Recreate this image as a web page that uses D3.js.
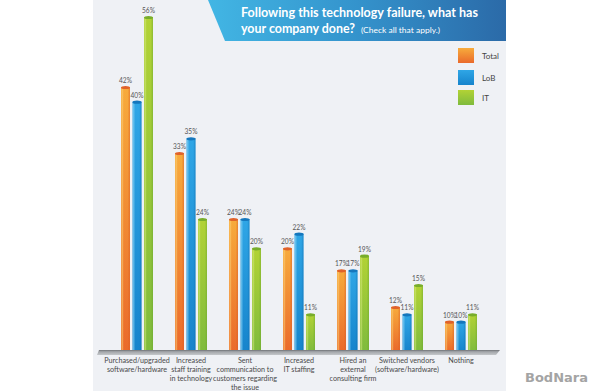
<!DOCTYPE html>
<html lang="en">
<head>
  <meta charset="UTF-8">
  <title>Technology failure response</title>
  <script src="https://d3js.org/d3.v7.min.js"></script>
  <style>
    html, body { margin: 0; padding: 0; background: #fff; }
    svg { display: block; font-family: Lato, "Liberation Sans", sans-serif; }
    .val { font-size: 6.6px; fill: #555; text-anchor: middle; }
    .cat { font-size: 7.2px; fill: #4a4a4a; text-anchor: middle; }
    .leg { font-size: 8px; fill: #444; }
  </style>
</head>
<body>
  <svg width="600" height="391"></svg>

  <script>
    // data
    const categories = [
      "Purchased/upgraded\nsoftware/hardware",
      "Increased\nstaff training\nin technology",
      "Sent\ncommunication to\ncustomers regarding\nthe issue",
      "Increased\nIT staffing",
      "Hired an\nexternal\nconsulting firm",
      "Switched vendors\n(software/hardware)",
      "Nothing"
    ];
    const seriesNames = ["Total", "LoB", "IT"];
    const totalValues = [42, 33, 24, 20, 17, 12, 10];
    const lobValues   = [40, 35, 24, 22, 17, 11, 10];
    const itValues    = [56, 24, 20, 11, 19, 15, 11];

    const svg = d3.select("svg");
    const defs = svg.append("defs");

    // panel background
    svg.append("rect")
      .attr("x", 93).attr("y", 0)
      .attr("width", 413).attr("height", 391)
      .attr("fill", "#eff1f5");

    // title banner
    const bannerGrad = defs.append("linearGradient").attr("id", "banner")
      .attr("x1", 0).attr("x2", 1).attr("y1", 0).attr("y2", 0);
    bannerGrad.append("stop").attr("offset", 0).attr("stop-color", "#42b6e4");
    bannerGrad.append("stop").attr("offset", 0.5).attr("stop-color", "#3493cc");
    bannerGrad.append("stop").attr("offset", 1).attr("stop-color", "#2b6aa8");

    svg.append("path")
      .attr("d", "M208,0 L506,0 L506,41 L225,41 Z")
      .attr("fill", "url(#banner)");

    const title = svg.append("g")
      .attr("fill", "#fff")
      .attr("font-weight", "bold")
      .attr("font-size", 14);
    title.append("text").attr("x", 241).attr("y", 17)
      .attr("textLength", 237).attr("lengthAdjust", "spacingAndGlyphs")
      .text("Following this technology failure, what has");
    title.append("text").attr("x", 241).attr("y", 33)
      .attr("font-size", 12.6)
      .attr("textLength", 114).attr("lengthAdjust", "spacingAndGlyphs")
      .text("your company done?");
    title.append("text").attr("x", 361).attr("y", 32.5)
      .attr("font-size", 7.5).attr("font-weight", "normal")
      .attr("textLength", 79).attr("lengthAdjust", "spacingAndGlyphs")
      .text("(Check all that apply.)");

    // scales
    const x0 = d3.scaleBand()
      .domain(categories)
      .range([110, 488])
      .paddingInner(0.4074)
      .paddingOuter(0.2037);

    const x1 = d3.scaleBand()
      .domain(seriesNames)
      .range([0, x0.bandwidth()])
      .paddingInner(0.22);

    // the original drawing is not to a single linear scale; a polylinear scale follows it
    const y = d3.scaleLinear()
      .domain([6, 42, 56])
      .range([351, 87, 17]);

    const colors = {
      Total: { top: "#f7ab3c", bottom: "#ea6a2b", light: "#fbd27a", dark: "#d8561f", cap: "#e0622a" },
      LoB:   { top: "#2fa6e6", bottom: "#1684cc", light: "#7fcdf2", dark: "#0f6cae", cap: "#1577bd" },
      IT:    { top: "#b2d235", bottom: "#7fbb3d", light: "#d3e87d", dark: "#69a42e", cap: "#78ad2b" }
    };

    seriesNames.forEach(s => {
      const c = colors[s];
      const g = defs.append("linearGradient").attr("id", "v-" + s)
        .attr("x1", 0).attr("x2", 0).attr("y1", 0).attr("y2", 1);
      g.append("stop").attr("offset", 0).attr("stop-color", c.top);
      g.append("stop").attr("offset", 1).attr("stop-color", c.bottom);
      const h = defs.append("linearGradient").attr("id", "h-" + s)
        .attr("x1", 0).attr("x2", 1).attr("y1", 0).attr("y2", 0);
      h.append("stop").attr("offset", 0).attr("stop-color", c.light).attr("stop-opacity", 0.0);
      h.append("stop").attr("offset", 0.12).attr("stop-color", c.light).attr("stop-opacity", 0.7);
      h.append("stop").attr("offset", 0.3).attr("stop-color", c.light).attr("stop-opacity", 0);
      h.append("stop").attr("offset", 0.75).attr("stop-color", c.dark).attr("stop-opacity", 0);
      h.append("stop").attr("offset", 1).attr("stop-color", c.dark).attr("stop-opacity", 0.5);
    });

    const rows = categories.map((cat, i) => ({
      cat,
      values: [
        { key: "Total", value: totalValues[i] },
        { key: "LoB", value: lobValues[i] },
        { key: "IT", value: itValues[i] }
      ]
    }));

    // axis base bar
    const axisGrad = defs.append("linearGradient").attr("id", "axis")
      .attr("x1", 0).attr("x2", 0).attr("y1", 0).attr("y2", 1);
    axisGrad.append("stop").attr("offset", 0).attr("stop-color", "#6f7276");
    axisGrad.append("stop").attr("offset", 0.35).attr("stop-color", "#a3a6aa");
    axisGrad.append("stop").attr("offset", 1).attr("stop-color", "#c4c7ca");

    const groups = svg.append("g")
      .selectAll("g")
      .data(rows)
      .join("g")
      .attr("transform", d => `translate(${x0(d.cat)},0)`);

    const bars = groups.selectAll("g")
      .data(d => d.values)
      .join("g");

    bars.append("rect")
      .attr("x", d => x1(d.key))
      .attr("y", d => y(d.value))
      .attr("width", x1.bandwidth())
      .attr("height", d => y.range()[0] - y(d.value))
      .attr("fill", d => `url(#v-${d.key})`);

    bars.append("rect")
      .attr("x", d => x1(d.key))
      .attr("y", d => y(d.value))
      .attr("width", x1.bandwidth())
      .attr("height", d => y.range()[0] - y(d.value))
      .attr("fill", d => `url(#h-${d.key})`);

    // little top cap
    bars.append("ellipse")
      .attr("cx", d => x1(d.key) + x1.bandwidth() / 2)
      .attr("cy", d => y(d.value) + 0.5)
      .attr("rx", x1.bandwidth() / 2)
      .attr("ry", 1.6)
      .attr("fill", d => colors[d.key].cap);

    bars.append("text")
      .attr("class", "val")
      .attr("x", d => x1(d.key) + x1.bandwidth() / 2)
      .attr("y", d => y(d.value) - 4)
      .text(d => d.value + "%");

    svg.append("path")
      .attr("d", "M99,350 L500,350 L496,355 L97,355 Z")
      .attr("fill", "url(#axis)");

    // category labels
    const catText = svg.append("g")
      .selectAll("text")
      .data(categories)
      .join("text")
      .attr("class", "cat")
      .attr("x", d => x0(d) + x0.bandwidth() / 2)
      .attr("y", 363);

    catText.selectAll("tspan")
      .data(d => d.split("\n"))
      .join("tspan")
      .attr("x", function() { return d3.select(this.parentNode).attr("x"); })
      .attr("dy", (d, i) => i === 0 ? 0 : 9)
      .text(d => d);

    // legend
    const legend = svg.append("g")
      .selectAll("g")
      .data(seriesNames)
      .join("g")
      .attr("transform", (d, i) => `translate(458,${[48, 70, 90][i]})`);

    legend.append("rect")
      .attr("width", 16).attr("height", 15)
      .attr("fill", d => `url(#v-${d})`);

    legend.append("text")
      .attr("class", "leg")
      .attr("x", 24).attr("y", 10.5)
      .text(d => d);

    // watermark
    svg.append("text")
      .attr("x", 588).attr("y", 382)
      .attr("text-anchor", "end")
      .attr("font-size", 13)
      .attr("font-weight", "bold")
      .attr("font-family", "DejaVu Sans, sans-serif")
      .attr("fill", "#a4a4a4")
      .text("BodNara");
  </script>
</body>
</html>
